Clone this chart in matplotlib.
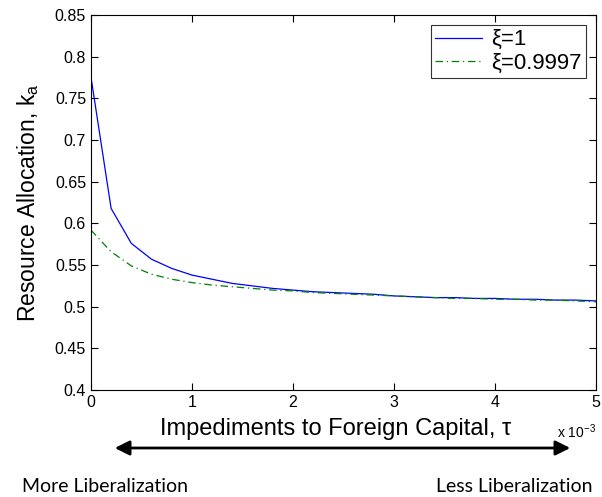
import matplotlib
matplotlib.use("Agg")
import matplotlib.pyplot as plt
import numpy as np

# tau values (x 10^-3)
tau = [0.0, 0.2, 0.4, 0.6, 0.8, 1.0, 1.2, 1.4, 1.6, 1.8, 2.0, 2.2, 2.4,
       2.6, 2.8, 3.0, 3.2, 3.4, 3.6, 3.8, 4.0, 4.2, 4.4, 4.6, 4.8, 5.0]

# xi = 1
k_xi1 = [0.776, 0.618, 0.576, 0.557, 0.546, 0.538, 0.533, 0.528, 0.525,
         0.522, 0.520, 0.518, 0.517, 0.516, 0.515, 0.513, 0.512, 0.511,
         0.511, 0.510, 0.510, 0.509, 0.509, 0.508, 0.508, 0.507]

# xi = 0.9997
k_xi2 = [0.592, 0.566, 0.549, 0.539, 0.533, 0.529, 0.526, 0.524, 0.522,
         0.520, 0.519, 0.517, 0.516, 0.515, 0.514, 0.513, 0.512, 0.511,
         0.510, 0.510, 0.509, 0.509, 0.508, 0.508, 0.507, 0.506]

yticks = [0.4, 0.45, 0.5, 0.55, 0.6, 0.65, 0.7, 0.75, 0.8, 0.85]
ytick_labels = ["0.4", "0.45", "0.5", "0.55", "0.6", "0.65", "0.7", "0.75", "0.8", "0.85"]
xticks = [0, 1, 2, 3, 4, 5]

plt.rcParams['font.family'] = ['Liberation Sans', 'DejaVu Sans']

fig = plt.figure(figsize=(6.02, 4.97), dpi=100)
ax = fig.add_axes([0.151, 0.215, 0.839, 0.755])

ax.plot(tau, k_xi1, color="blue", linewidth=0.9, label="ξ=1")
ax.plot(tau, k_xi2, color="green", linewidth=0.9, linestyle="-.",
        dashes=(6, 3, 1, 3), label="ξ=0.9997")

ax.set_xlim(0, 5)
ax.set_ylim(0.4, 0.85)
ax.set_xticks(xticks)
ax.set_xticklabels([str(t) for t in xticks])
ax.set_yticks(yticks)
ax.set_yticklabels(ytick_labels)
ax.tick_params(direction="in", top=True, right=True, labelsize=11.5, length=5, width=0.8)

ax.set_xlabel("Impediments to Foreign Capital, τ", fontsize=17, labelpad=4)
ax.xaxis.set_label_coords(0.485, -0.075)
ax.set_ylabel("Resource Allocation, k$_\\mathregular{a}$", fontsize=16.5, labelpad=10)

ax.text(1.0, -0.112, "x 10$^{\\mathregular{-3}}$", transform=ax.transAxes,
        ha="right", va="center", fontsize=10)

leg = ax.legend(loc="upper right", fontsize=16, frameon=True, fancybox=False,
                edgecolor="black", handlelength=2.1, borderaxespad=0.45,
                handletextpad=0.4, borderpad=0.2, labelspacing=0.1)
leg.get_frame().set_linewidth(0.8)

# liberalization arrow
fig.add_artist(matplotlib.patches.FancyArrowPatch(
    (112 / 602, 1 - 448 / 497), (573 / 602, 1 - 448 / 497),
    transform=fig.transFigure, arrowstyle="<|-|>", mutation_scale=22,
    color="black", linewidth=2))

fig.text(22 / 602, 1 - 486 / 497, "More Liberalization", family=["Lato", "DejaVu Sans"],
         fontsize=14, ha="left", va="center")
fig.text(592 / 602, 1 - 486 / 497, "Less Liberalization", family=["Lato", "DejaVu Sans"],
         fontsize=14, ha="right", va="center")

fig.savefig("out.png", dpi=100)
